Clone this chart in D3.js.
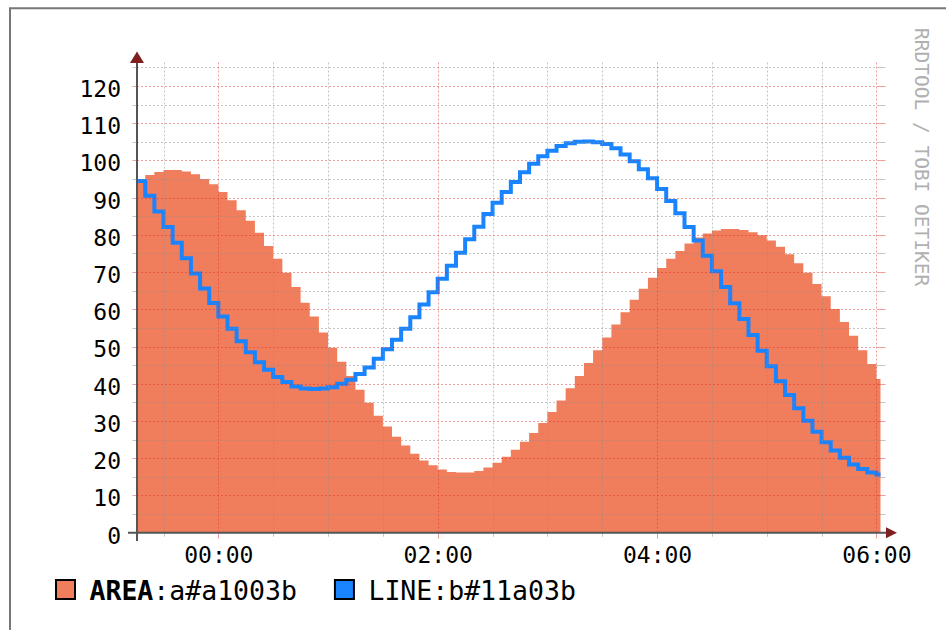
<!DOCTYPE html>
<html>
<head>
<meta charset="utf-8">
<script src="https://cdn.jsdelivr.net/npm/d3@7"></script>
<style>
  html, body { margin: 0; padding: 0; background: #fff; }
  svg { display: block; font-family: "DejaVu Sans Mono", monospace; }
</style>
</head>
<body>
<svg id="chart" width="946" height="630"></svg>
<script>
// 5 minute samples; each value covers the 5 minutes that end at its stamp
const stepMinutes = 5;
const sampleEnds = d3.range(-40, 366, stepMinutes); // minutes from 00:00

const areaValues = [
  94.8, 96.1, 96.9, 97.4, 97.4, 97.0, 96.3, 95.0, 93.6, 91.5,
  89.3, 86.6, 83.8, 80.6, 77.0, 73.6, 69.8, 66.0, 61.8, 58.1,
  53.8, 49.7, 45.9, 42.1, 38.4, 34.9, 31.4, 28.5, 25.8, 23.4,
  21.2, 19.4, 18.1, 17.0, 16.3, 16.2, 16.2, 16.6, 17.5, 18.8,
  20.4, 22.3, 24.4, 26.8, 29.5, 32.4, 35.5, 38.8, 42.1, 45.6,
  49.0, 52.4, 55.9, 59.2, 62.6, 65.5, 68.5, 71.1, 73.6, 75.7,
  77.7, 79.3, 80.4, 81.2, 81.6, 81.6, 81.3, 80.7, 79.9, 78.5,
  76.8, 74.8, 72.4, 69.8, 66.8, 63.5, 60.1, 56.6, 52.9, 49.0,
  45.3, 41.3
];

const lineValues = [
  94.5, 90.5, 86.3, 82.1, 77.9, 73.7, 69.6, 65.6, 61.7, 58.1,
  54.8, 51.4, 48.5, 45.8, 43.8, 41.8, 40.5, 39.3, 38.7, 38.6,
  38.7, 39.1, 40.0, 41.1, 42.6, 44.4, 46.7, 49.3, 51.8, 54.8,
  57.9, 61.3, 64.6, 68.2, 71.7, 75.2, 78.8, 82.2, 85.6, 88.6,
  91.5, 94.2, 96.8, 99.1, 101.1, 102.6, 103.9, 104.6, 105.0, 105.1,
  104.9, 104.4, 103.3, 101.6, 99.8, 97.6, 95.2, 92.3, 89.1, 85.8,
  82.1, 78.5, 74.4, 70.2, 66.0, 61.6, 57.4, 53.1, 48.9, 44.7,
  40.7, 37.0, 33.4, 30.1, 27.1, 24.3, 22.1, 20.1, 18.3, 17.1,
  16.2, 15.6
];

const xTickMinutes = [0, 120, 240, 360];
const xTickLabels = ["00:00", "02:00", "04:00", "06:00"];
const xMinorMinutes = [-30, 30, 60, 90, 150, 180, 210, 270, 300, 330];
const yTickValues = [0, 10, 20, 30, 40, 50, 60, 70, 80, 90, 100, 110, 120];
const yMinorValues = [5, 15, 25, 35, 45, 55, 65, 75, 85, 95, 105, 115, 125];
const legendNames = ["AREA", "LINE"];
const legendSuffix = [":a#a1003b", ":b#11a03b"];
const watermark = "RRDTOOL / TOBI OETIKER";

const areaColor = "#f07e5c";
const lineColor = "#1a84ff";
const minorGrid = "rgba(140,140,140,0.5)";
const majorGrid = "rgba(220,40,40,0.45)";
const axisColor = "#555";
const arrowColor = "#7f1f1f";

const svg = d3.select("#chart");

// plot box
const plotLeft = 137, plotRight = 879, plotTop = 62.5, plotBottom = 532.7;

const x = d3.scaleLinear().domain([-44.5, 361.4]).range([plotLeft, plotRight]);
const y = d3.scaleLinear().domain([0, 126.3]).range([plotBottom, plotTop]);

// outer frame
svg.append("rect").attr("width", 946).attr("height", 630).attr("fill", "#fff");
svg.append("path")
  .attr("d", "M10,640 L10,8.2 L956,8.2")
  .attr("fill", "none").attr("stroke", "#777").attr("stroke-width", 2);

svg.append("clipPath").attr("id", "plotclip")
  .append("rect").attr("x", plotLeft).attr("y", plotTop - 5)
  .attr("width", plotRight - plotLeft + 1.5).attr("height", plotBottom - plotTop + 5);

// step points: value i spans (end - 5, end]
function stepPoints(vals) {
  const pts = sampleEnds.map((t, i) => ({ t: t - stepMinutes, v: vals[i] }));
  pts.push({ t: sampleEnds[sampleEnds.length - 1], v: vals[vals.length - 1] });
  return pts;
}

const area = d3.area()
  .curve(d3.curveStepAfter)
  .x(d => x(d.t))
  .y0(y(0))
  .y1(d => y(d.v));

const line = d3.line()
  .curve(d3.curveStepAfter)
  .x(d => x(d.t))
  .y(d => y(d.v));

const plot = svg.append("g").attr("clip-path", "url(#plotclip)");
plot.append("path")
  .attr("d", area(stepPoints(areaValues)))
  .attr("fill", areaColor);

// --- grid ---
const grid = svg.append("g").attr("class", "grid");

function hGrid(vals, color) {
  vals.forEach(v => {
    const yy = Math.round(y(v)) + 0.5;
    grid.append("line").attr("x1", plotLeft).attr("x2", plotRight).attr("y1", yy).attr("y2", yy)
      .attr("stroke", color).attr("stroke-dasharray", "2,2");
    grid.append("line").attr("x1", plotLeft - 4.5).attr("x2", plotLeft).attr("y1", yy).attr("y2", yy)
      .attr("stroke", color);
    grid.append("line").attr("x1", plotRight).attr("x2", plotRight + 6.5).attr("y1", yy).attr("y2", yy)
      .attr("stroke", color);
  });
}

function vGrid(vals, color, tick) {
  vals.forEach(t => {
    const xx = Math.round(x(t)) + 0.5;
    grid.append("line").attr("x1", xx).attr("x2", xx).attr("y1", plotTop).attr("y2", plotBottom)
      .attr("stroke", color).attr("stroke-dasharray", "2,2");
    grid.append("line").attr("x1", xx).attr("x2", xx).attr("y1", plotBottom).attr("y2", plotBottom + tick)
      .attr("stroke", color);
  });
}

hGrid(yMinorValues, minorGrid);
hGrid(yTickValues.filter(v => v > 0), majorGrid);
vGrid(xMinorMinutes, minorGrid, 4);
vGrid(xTickMinutes, majorGrid, 6);

// --- line ---
plot.append("path")
  .attr("d", line(stepPoints(lineValues)))
  .attr("fill", "none")
  .attr("stroke", lineColor)
  .attr("stroke-width", 4)
  .attr("stroke-linejoin", "miter");

// --- axes lines + arrows ---
svg.append("line").attr("x1", 128).attr("x2", 887).attr("y1", plotBottom).attr("y2", plotBottom)
  .attr("stroke", axisColor).attr("stroke-width", 2);
svg.append("line").attr("x1", plotLeft).attr("x2", plotLeft).attr("y1", 541).attr("y2", 62)
  .attr("stroke", axisColor).attr("stroke-width", 2);
svg.append("path").attr("d", `M886,${plotBottom - 5.5} L897,${plotBottom} L886,${plotBottom + 5.5} Z`)
  .attr("fill", arrowColor);
svg.append("path").attr("d", `M${plotLeft - 7},63 L${plotLeft},51.5 L${plotLeft + 7},63 Z`)
  .attr("fill", arrowColor);

// --- tick labels ---
const yAxis = d3.axisLeft(y).tickValues(yTickValues).tickSize(0).tickPadding(16);
svg.append("g")
  .attr("transform", `translate(${plotLeft},0)`)
  .call(yAxis)
  .call(g => g.select(".domain").remove())
  .call(g => g.selectAll("text")
    .attr("dy", "0.45em")
    .attr("fill", "#000")
    .style("font-family", "DejaVu Sans Mono")
    .style("font-size", "23px"));

const xAxis = d3.axisBottom(x).tickValues(xTickMinutes)
  .tickFormat((d, i) => xTickLabels[i]).tickSize(0).tickPadding(14);
svg.append("g")
  .attr("transform", `translate(0,${plotBottom})`)
  .call(xAxis)
  .call(g => g.select(".domain").remove())
  .call(g => g.selectAll("text")
    .attr("fill", "#000")
    .style("font-family", "DejaVu Sans Mono")
    .style("font-size", "23px"));

// --- legend ---
const legendColors = [areaColor, lineColor];
let lx = 56;
legendNames.forEach((name, i) => {
  svg.append("rect").attr("x", lx).attr("y", 580).attr("width", 19).attr("height", 19)
    .attr("fill", legendColors[i]).attr("stroke", "#000").attr("stroke-width", 2);
  const txt = svg.append("text")
    .attr("x", lx + 33.5).attr("y", 599.5)
    .style("font-size", "26.5px").attr("fill", "#000");
  txt.append("tspan").attr("font-weight", i === 0 ? "bold" : "normal").text(name);
  txt.append("tspan").text(legendSuffix[i]);
  lx = lx + 33.5 + txt.node().getComputedTextLength() + 38;
});

// --- watermark ---
svg.append("text")
  .attr("transform", "translate(915,28) rotate(90)")
  .attr("fill", "#b0b0b0")
  .style("font-size", "19.5px")
  .text(watermark);
</script>
</body>
</html>
